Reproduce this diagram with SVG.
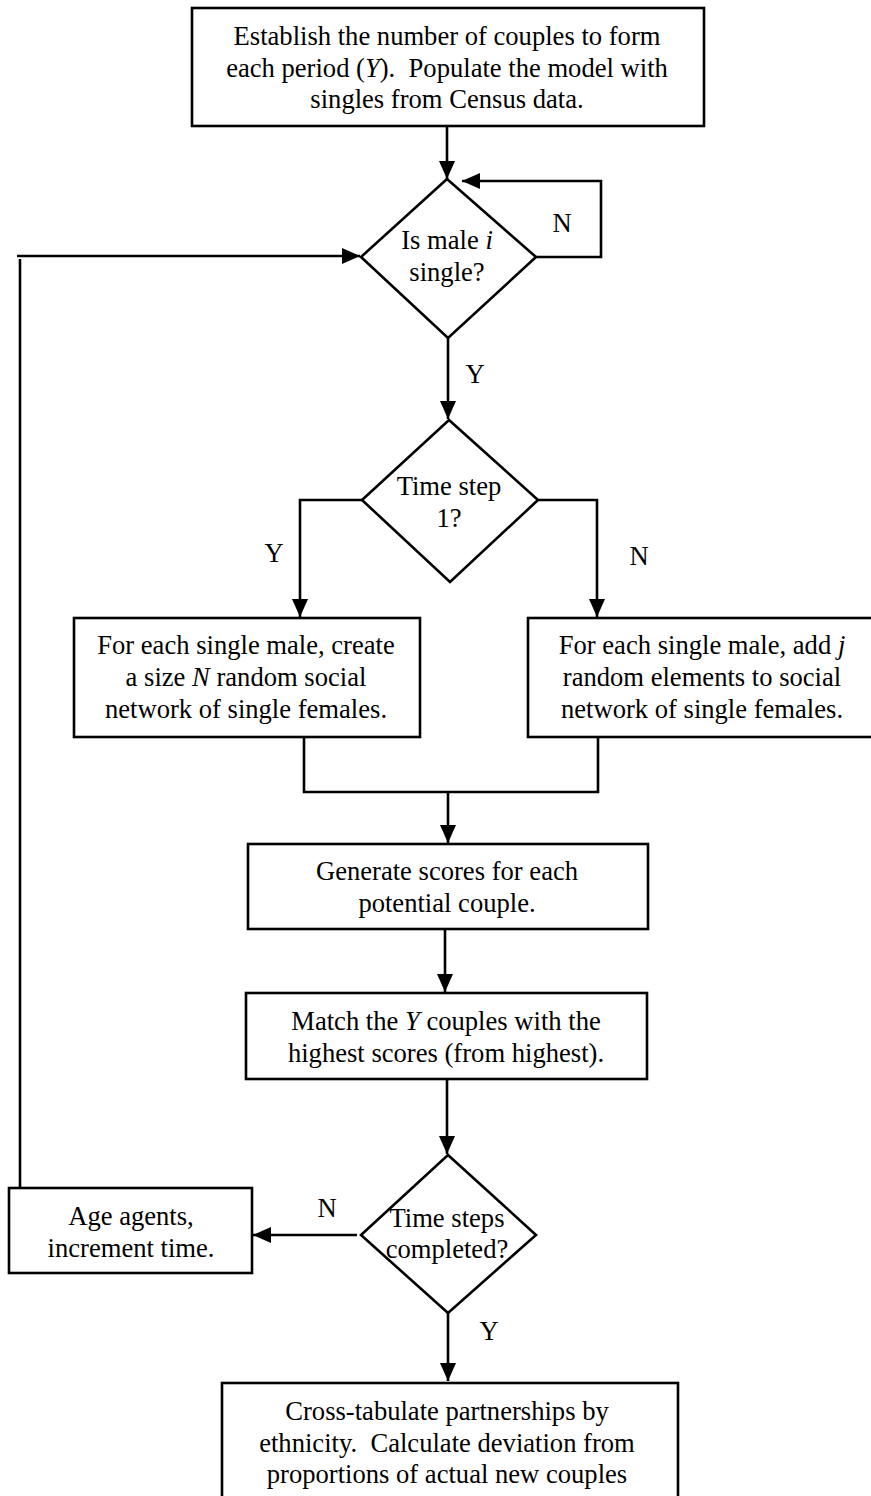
<svg xmlns="http://www.w3.org/2000/svg" width="871" height="1496" viewBox="0 0 871 1496">
  <style>
    .box { fill: #ffffff; stroke: #000000; stroke-width: 2.6; }
    .wire { fill: none; stroke: #000000; stroke-width: 2.6; }
    .lbl { font-family: "Liberation Serif", "Times New Roman", serif; font-size: 26.6px; fill: #000000; text-anchor: middle; }
    .it { font-style: italic; }
  </style>
  <defs>
    <marker id="arrow" viewBox="0 0 18 16" refX="18" refY="8" markerWidth="18" markerHeight="16" markerUnits="userSpaceOnUse" orient="auto">
      <path d="M0,0 L18,8 L0,16 z" fill="#000000"/>
    </marker>
  </defs>

  <rect width="871" height="1496" fill="#ffffff"/>

  <!-- connectors and branch labels -->
  <g id="connectors">
    <line class="wire" x1="447" y1="126" x2="447" y2="179" marker-end="url(#arrow)"/>
    <polyline class="wire" points="536,257 601,257 601,181 462,181" marker-end="url(#arrow)"/>
    <line class="wire" x1="448" y1="338" x2="448" y2="419" marker-end="url(#arrow)"/>
    <polyline class="wire" points="362,500 300,500 300,617" marker-end="url(#arrow)"/>
    <polyline class="wire" points="538,500 597,500 597,617" marker-end="url(#arrow)"/>
    <polyline class="wire" points="304,737 304,792 598,792 598,737"/>
    <line class="wire" x1="448" y1="792" x2="448" y2="843" marker-end="url(#arrow)"/>
    <line class="wire" x1="445" y1="929" x2="445" y2="992" marker-end="url(#arrow)"/>
    <line class="wire" x1="447" y1="1079" x2="447" y2="1154" marker-end="url(#arrow)"/>
    <line class="wire" x1="357" y1="1235" x2="253" y2="1235" marker-end="url(#arrow)"/>
    <line class="wire" x1="20" y1="1188" x2="20" y2="259"/>
    <line class="wire" x1="17" y1="256" x2="360" y2="256" marker-end="url(#arrow)"/>
    <line class="wire" x1="448" y1="1313" x2="448" y2="1381" marker-end="url(#arrow)"/>
    <text class="lbl" x="562" y="232">N</text>
    <text class="lbl" x="475" y="383">Y</text>
    <text class="lbl" x="274" y="562">Y</text>
    <text class="lbl" x="639" y="565">N</text>
    <text class="lbl" x="327" y="1217">N</text>
    <text class="lbl" x="489" y="1340">Y</text>
  </g>

  <g id="start">
    <rect class="box" x="192" y="8" width="512" height="118"/>
    <text class="lbl" x="447" y="45">Establish the number of couples to form</text>
    <text class="lbl" x="447" y="77">each period (<tspan class="it">Y</tspan>).&#160; Populate the model with</text>
    <text class="lbl" x="447" y="108">singles from Census data.</text>
  </g>

  <g id="is-single">
    <polygon class="box" points="447,179 536,257 448,338 361,257"/>
    <text class="lbl" x="447" y="249">Is male <tspan class="it">i</tspan></text>
    <text class="lbl" x="447" y="281">single?</text>
  </g>

  <g id="first-step">
    <polygon class="box" points="449,420 538,500 450,582 362,500"/>
    <text class="lbl" x="449" y="495">Time step</text>
    <text class="lbl" x="449" y="527">1?</text>
  </g>

  <g id="create-network">
    <rect class="box" x="74" y="618" width="346" height="119"/>
    <text class="lbl" x="246" y="654">For each single male, create</text>
    <text class="lbl" x="246" y="686">a size <tspan class="it">N</tspan> random social</text>
    <text class="lbl" x="246" y="718">network of single females.</text>
  </g>

  <g id="extend-network">
    <rect class="box" x="528" y="618" width="350" height="119"/>
    <text class="lbl" x="702" y="654">For each single male, add <tspan class="it">j</tspan></text>
    <text class="lbl" x="702" y="686">random elements to social</text>
    <text class="lbl" x="702" y="718">network of single females.</text>
  </g>

  <g id="scores">
    <rect class="box" x="248" y="844" width="400" height="85"/>
    <text class="lbl" x="447" y="880">Generate scores for each</text>
    <text class="lbl" x="447" y="912">potential couple.</text>
  </g>

  <g id="match">
    <rect class="box" x="246" y="993" width="401" height="86"/>
    <text class="lbl" x="446" y="1030">Match the <tspan class="it">Y</tspan> couples with the</text>
    <text class="lbl" x="446" y="1062">highest scores (from highest).</text>
  </g>

  <g id="steps-done">
    <polygon class="box" points="448,1155 536,1235 448,1313 361,1235"/>
    <text class="lbl" x="447" y="1227">Time steps</text>
    <text class="lbl" x="447" y="1258">completed?</text>
  </g>

  <g id="age-agents">
    <rect class="box" x="9" y="1188" width="243" height="85"/>
    <text class="lbl" x="131" y="1225">Age agents,</text>
    <text class="lbl" x="131" y="1257">increment time.</text>
  </g>

  <g id="cross-tabulate">
    <rect class="box" x="222" y="1383" width="456" height="130"/>
    <text class="lbl" x="447" y="1420">Cross-tabulate partnerships by</text>
    <text class="lbl" x="447" y="1452">ethnicity.&#160; Calculate deviation from</text>
    <text class="lbl" x="447" y="1483">proportions of actual new couples</text>
  </g>
</svg>
